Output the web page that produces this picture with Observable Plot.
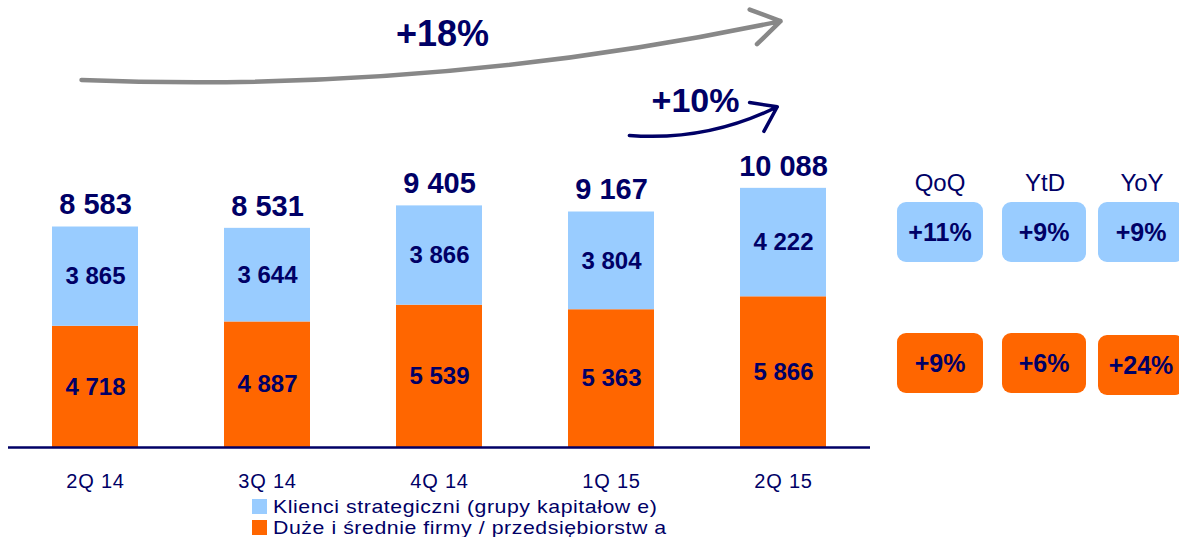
<!DOCTYPE html>
<html>
<head>
<meta charset="utf-8">
<script src="https://cdn.jsdelivr.net/npm/d3@7"></script>
<script src="https://cdn.jsdelivr.net/npm/@observablehq/plot@0.6"></script>
<style>
  html, body { margin: 0; padding: 0; background: #fff; }
  body { font-family: "Liberation Sans", Arial, sans-serif; color: #000066; }
  #wrap { position: relative; width: 1179px; height: 537px; overflow: hidden; }
  #chart { position: absolute; left: 0; top: 0; }
  #chart svg g[aria-label="x-axis tick label"] text { letter-spacing: 0.8px; }
  .hdr { position: absolute; font-size: 24px; text-align: center; width: 90px; line-height: 24px; }
  .box { position: absolute; border-radius: 9px; font-weight: bold; font-size: 25px;
         display: flex; align-items: center; justify-content: center; color: #000066; }
  .blue { background: #99ccff; }
  .orange { background: #ff6600; }
  #legend { position: absolute; left: 252px; top: 496px; font-size: 19px; line-height: 21px; letter-spacing: 0.5px; }
  #legend .row { display: flex; align-items: center; height: 21px; }
  #legend .sw { width: 15px; height: 15px; margin-right: 6px; flex: none; }
  #legend .lt { display: inline-block; transform: scaleX(1.12); transform-origin: left center; white-space: nowrap; }
</style>
</head>
<body>
<div id="wrap">
  <div id="chart"></div>
  <div id="panel"></div>
  <div id="legend"></div>
</div>
<script>
const quarters = ["2Q 14", "3Q 14", "4Q 14", "1Q 15", "2Q 15"];
const strategic = [3865, 3644, 3866, 3804, 4222];
const midSized = [4718, 4887, 5539, 5363, 5866];
const totals = [8583, 8531, 9405, 9167, 10088];
const seriesNames = ["Klienci strategiczni (grupy kapitałow e)", "Duże i średnie firmy / przedsiębiorstw a"];
const seriesColors = ["#99ccff", "#ff6600"];
const changePeriods = ["QoQ", "YtD", "YoY"];
const strategicChange = ["+11%", "+9%", "+9%"];
const midSizedChange = ["+9%", "+6%", "+24%"];
const growthLabels = ["+18%", "+10%"];

const fmt = d3.formatLocale({decimal: ",", thousands: " ", grouping: [3], currency: ["", ""]}).format(",");
const navy = "#000066";

// long-form table: mid-sized (bottom) first, strategic on top
const rows = [];
quarters.forEach((q, i) => {
  rows.push({quarter: q, series: seriesNames[1], value: midSized[i], base: 0});
  rows.push({quarter: q, series: seriesNames[0], value: strategic[i], base: midSized[i]});
});
const totalRows = quarters.map((q, i) => ({quarter: q, total: totals[i]}));

const chart = Plot.plot({
  width: 1179,
  height: 495,
  marginLeft: 8,
  marginRight: 309,
  marginTop: 0,
  marginBottom: 48,
  style: {fontFamily: "'Liberation Sans', Arial, sans-serif", color: navy, background: "transparent"},
  x: {domain: quarters, paddingInner: 0.5, paddingOuter: 0.25, axis: null},
  y: {domain: [0, 17400], axis: null},
  color: {domain: [seriesNames[1], seriesNames[0]], range: [seriesColors[1], seriesColors[0]]},
  marks: [
    Plot.barY(rows, {x: "quarter", y1: "base", y2: d => d.base + d.value, fill: "series"}),
    Plot.ruleY([0], {stroke: navy, strokeWidth: 2.5}),
    Plot.axisX({tickSize: 0, tickPadding: 26, fontSize: 20, fill: navy, label: null}),
    Plot.text(rows, {x: "quarter", y: d => d.base + d.value / 2, text: d => fmt(d.value),
      fontSize: 24, fontWeight: "bold", fill: navy, lineAnchor: "middle"}),
    Plot.text(totalRows, {x: "quarter", y: "total", text: d => fmt(d.total),
      fontSize: 29, fontWeight: "bold", fill: navy, lineAnchor: "middle", dy: -22}),
    Plot.arrow([growthLabels[0]], {x1: () => quarters[0], x2: () => quarters[4], y1: 14286, y2: 16621,
      bend: -7, stroke: "#888888", strokeWidth: 4.5, headLength: 11, headAngle: 65, insetStart: -14, insetEnd: 3}),
    Plot.arrow([growthLabels[1]], {x1: () => quarters[3], x2: () => quarters[4], y1: 12223, y2: 13390,
      bend: -18, stroke: navy, strokeWidth: 3.5, headLength: 12, headAngle: 70, insetStart: 18, insetEnd: 7}),
    Plot.text([growthLabels[0]], {x: () => quarters[2], y: 16096, text: d => d, dx: 3,
      fontSize: 36, fontWeight: "bold", fill: navy, lineAnchor: "middle"}),
    Plot.text([growthLabels[1]], {x: () => quarters[3], y: 13468, text: d => d, dx: 84,
      fontSize: 34, fontWeight: "bold", fill: navy, lineAnchor: "middle"})
  ]
});
document.getElementById("chart").appendChild(chart);

// right-hand change panel
const panel = document.getElementById("panel");
const colX = [[897, 86], [1002, 84], [1098, 86]];
const centers = [940, 1045, 1142];
changePeriods.forEach((p, i) => {
  const h = document.createElement("div");
  h.className = "hdr";
  h.textContent = p;
  h.style.left = (centers[i] - 45) + "px";
  h.style.top = "171px";
  panel.appendChild(h);
  const b1 = document.createElement("div");
  b1.className = "box blue";
  b1.textContent = strategicChange[i];
  b1.style.left = colX[i][0] + "px"; b1.style.width = colX[i][1] + "px";
  b1.style.top = "202px"; b1.style.height = "60px";
  panel.appendChild(b1);
  const b2 = document.createElement("div");
  b2.className = "box orange";
  b2.textContent = midSizedChange[i];
  b2.style.left = colX[i][0] + "px"; b2.style.width = colX[i][1] + "px";
  b2.style.top = (i === 2 ? 335 : 333) + "px"; b2.style.height = "60px";
  panel.appendChild(b2);
});

// legend
const legend = document.getElementById("legend");
seriesNames.forEach((name, i) => {
  const r = document.createElement("div");
  r.className = "row";
  const s = document.createElement("span");
  s.className = "sw";
  s.style.background = seriesColors[i];
  const t = document.createElement("span");
  t.className = "lt";
  t.textContent = name;
  r.appendChild(s); r.appendChild(t);
  legend.appendChild(r);
});
</script>
</body>
</html>
